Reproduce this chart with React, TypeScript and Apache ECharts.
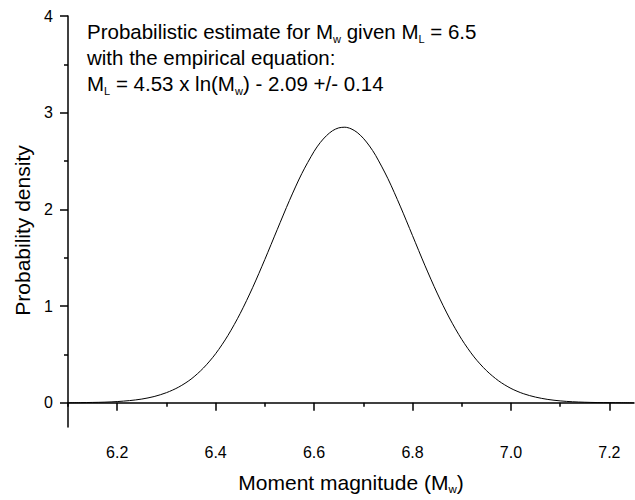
import React, { useEffect, useRef } from "react";
import * as echarts from "echarts";

// Moment magnitude (x) values
const magnitudes = [
  6.1, 6.125, 6.15, 6.175, 6.2, 6.225, 6.25, 6.275, 6.3, 6.325, 6.35, 6.375,
  6.4, 6.425, 6.45, 6.475, 6.5, 6.525, 6.55, 6.575, 6.6, 6.6125, 6.625, 6.6375,
  6.65, 6.6625, 6.675, 6.6875, 6.7, 6.7125, 6.725, 6.75, 6.775, 6.8, 6.825,
  6.85, 6.875, 6.9, 6.925, 6.95, 6.975, 7.0, 7.025, 7.05, 7.075, 7.1, 7.125,
  7.15, 7.175, 7.2, 7.225, 7.25,
];
// Probability density values estimated from the reference curve
const densities = [
  0.001, 0.002, 0.004, 0.007, 0.013, 0.023, 0.039, 0.065, 0.105, 0.163, 0.245,
  0.359, 0.508, 0.697, 0.925, 1.19, 1.483, 1.79, 2.093, 2.37, 2.6, 2.691,
  2.762, 2.814, 2.843, 2.85, 2.834, 2.796, 2.736, 2.656, 2.559, 2.318, 2.034,
  1.729, 1.423, 1.135, 0.877, 0.656, 0.475, 0.334, 0.227, 0.149, 0.095, 0.059,
  0.035, 0.02, 0.011, 0.006, 0.003, 0.002, 0.001, 0.0,
];

const xMajorTicks = [6.2, 6.4, 6.6, 6.8, 7.0, 7.2];
const xMinorTicks = [6.1, 6.3, 6.5, 6.7, 6.9, 7.1];
const yMajorTicks = [0, 1, 2, 3, 4];
const yMinorTicks = [0.5, 1.5, 2.5, 3.5];

const FONT = "'Liberation Sans', Arial, sans-serif";

export default function App() {
  const ref = useRef<HTMLDivElement>(null);

  useEffect(() => {
    if (!ref.current) return;
    const chart = echarts.init(ref.current, null, { renderer: "svg" });
    const axisLineStyle = { color: "#000", width: 1.5 };
    const subStyle = {
      fontSize: 11,
      lineHeight: 11,
      verticalAlign: "bottom",
      fontFamily: FONT,
      color: "#000",
    };
    const mainRich = {
      fontSize: 20.5,
      lineHeight: 26,
      fontFamily: FONT,
      color: "#000",
    };
    chart.setOption({
      animation: false,
      backgroundColor: "#fff",
      grid: { left: 68, right: 1, top: 16, bottom: 68, containLabel: false },
      xAxis: [
        {
          type: "value",
          min: 6.1,
          max: 7.25,
          name: "{m|Moment magnitude (M}{sub|w}{m|)}",
          nameLocation: "middle",
          nameGap: 42,
          nameTextStyle: {
            rich: {
              m: { ...mainRich, fontSize: 21 },
              sub: { ...subStyle, fontSize: 11.5 },
            },
          },
          axisLine: { show: true, lineStyle: axisLineStyle },
          axisTick: {
            show: true,
            inside: false,
            length: 8,
            customValues: xMajorTicks,
            lineStyle: axisLineStyle,
          },
          axisLabel: {
            customValues: xMajorTicks,
            formatter: (v: number) => v.toFixed(1),
            fontSize: 16,
            fontFamily: FONT,
            color: "#000",
            margin: 17,
          },
          splitLine: { show: false },
        },
        {
          type: "value",
          min: 6.1,
          max: 7.25,
          position: "bottom",
          axisLine: { show: false },
          axisTick: {
            show: true,
            length: 4,
            customValues: xMinorTicks,
            lineStyle: axisLineStyle,
          },
          axisLabel: { show: false },
          splitLine: { show: false },
        },
      ],
      yAxis: [
        {
          type: "value",
          min: -0.25,
          max: 4,
          name: "Probability density",
          nameLocation: "middle",
          nameGap: 34,
          nameRotate: 90,
          nameTextStyle: {
            fontSize: 21,
            fontFamily: FONT,
            color: "#000",
            padding: [0, 18, 0, 0],
          },
          axisLine: { show: true, lineStyle: axisLineStyle },
          axisTick: {
            show: true,
            length: 8,
            customValues: yMajorTicks,
            lineStyle: axisLineStyle,
          },
          axisLabel: {
            customValues: yMajorTicks,
            fontSize: 16,
            fontFamily: FONT,
            color: "#000",
            margin: 15,
          },
          splitLine: { show: false },
        },
        {
          type: "value",
          min: -0.25,
          max: 4,
          position: "left",
          axisLine: { show: false },
          axisTick: {
            show: true,
            length: 4,
            customValues: yMinorTicks,
            lineStyle: axisLineStyle,
          },
          axisLabel: { show: false },
          splitLine: { show: false },
        },
      ],
      graphic: [
        {
          type: "text",
          x: 87,
          y: 18,
          style: {
            text:
              "{m|Probabilistic estimate for M}{sub|w}{m| given M}{sub|L}{m| = 6.5}\n" +
              "{m|with the empirical equation:}\n" +
              "{m|M}{sub|L}{m| = 4.53 x ln(M}{sub|w}{m|) - 2.09 +/- 0.14}",
            rich: { m: mainRich, sub: subStyle },
            fill: "#000",
          },
        },
      ],
      series: [
        {
          type: "line",
          data: magnitudes.map((m, i) => [m, densities[i]]),
          smooth: 0.3,
          showSymbol: false,
          lineStyle: { color: "#000", width: 1 },
          xAxisIndex: 0,
          yAxisIndex: 0,
        },
      ],
    });
    return () => chart.dispose();
  }, []);

  return (
    <div
      ref={ref}
      style={{ position: "fixed", left: 0, top: 0, width: 635, height: 500, background: "#fff" }}
    />
  );
}
